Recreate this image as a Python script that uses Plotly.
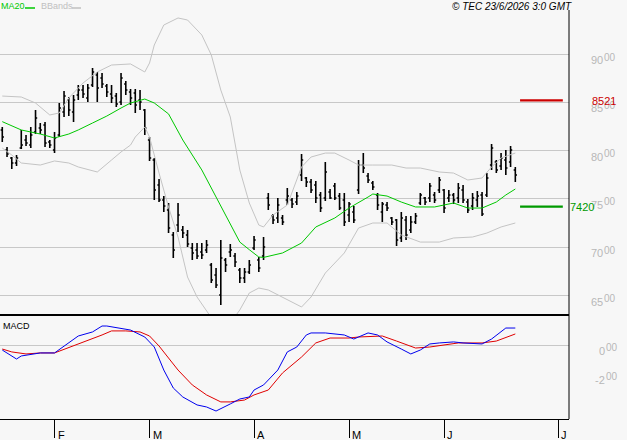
import plotly.graph_objects as go

# ---------------- data ----------------
open_ = [8214,8007,7924,7872,8027,8110,8058,8193,8234,8265,
         8089,8007,8162,8400,8524,8400,8576,8627,8545,8679,
         8783,8752,8669,8586,8565,8503,8690,8607,8596,8524,
         8421,8110,7903,7644,7489,7386,7127,7230,7179,7127,
         6992,6972,6951,6972,6816,6713,6506,6868,6951,6910,
         6764,6682,6744,6992,6868,6910,7510,7323,7303,7303,
         7489,7489,7468,7748,7717,7675,7644,7541,7510,7572,
         7634,7530,7489,7334,7365,7593,7851,7737,7665,7541,
         7365,7437,7303,7282,7096,7282,7179,7261,7458,7510,
         7510,7541,7593,7593,7510,7541,7510,7593,7468,7427,
         7489,7541,7541,7851,7882,7841,7903,7882,7800]
high = [8245,8038,7934,7955,8214,8162,8245,8421,8286,8296,
        8110,8193,8493,8617,8555,8576,8679,8679,8690,8855,
        8814,8803,8690,8679,8596,8803,8721,8638,8638,8627,
        8431,8141,7924,7706,7530,7458,7158,7458,7220,7179,
        7044,7044,7044,7075,6837,6785,7075,6889,7034,6941,
        6785,6785,6868,7116,6899,7106,7561,7344,7510,7334,
        7613,7510,7572,7965,7727,7706,7686,7572,7882,7603,
        7665,7561,7561,7468,7427,7903,7975,7768,7686,7561,
        7468,7468,7313,7292,7365,7323,7323,7355,7561,7520,
        7665,7572,7727,7603,7593,7561,7665,7644,7499,7561,
        7582,7572,7768,8069,7903,7975,8007,8048,7831]
low = [8089,7934,7810,7841,8017,8048,8027,8172,8172,8038,
       8027,7975,8141,8348,8358,8296,8524,8545,8503,8659,
       8503,8648,8555,8493,8452,8472,8576,8472,8390,8421,
       8162,7893,7489,7468,7365,7147,6889,7158,7096,7003,
       6868,6878,6878,6941,6630,6578,6402,6744,6899,6796,
       6630,6630,6723,6972,6744,6868,7386,7241,7251,7230,
       7437,7406,7437,7686,7624,7561,7458,7365,7479,7499,
       7489,7386,7220,7261,7251,7551,7768,7665,7593,7386,
       7261,7375,7230,7013,7054,7075,7147,7241,7437,7437,
       7468,7458,7561,7355,7468,7448,7458,7458,7355,7386,
       7417,7323,7520,7800,7768,7800,7748,7831,7675]
close = [8141,7965,7872,7924,8058,8079,8162,8338,8214,8079,
         8058,8131,8441,8565,8421,8524,8627,8586,8648,8814,
         8648,8690,8607,8545,8483,8752,8627,8545,8472,8503,
         8234,7924,7593,7489,7427,7199,6972,7334,7147,7034,
         6941,6910,6920,7023,6661,6609,6889,6816,6972,6847,
         6682,6744,6816,7075,6785,7003,7437,7282,7437,7261,
         7530,7448,7530,7903,7675,7593,7510,7406,7779,7510,
         7510,7406,7261,7448,7282,7851,7820,7696,7624,7437,
         7448,7406,7261,7075,7303,7127,7261,7323,7541,7468,
         7634,7489,7696,7406,7541,7489,7613,7489,7386,7510,
         7530,7344,7717,8027,7800,7924,7820,8007,7748]

ma20_x = [0,4,8,11,14,16,19,22,25,27,30,32,35,38,42,44,47,50,52,54,
          55,59,63,66,70,73,77,78,81,84,87,91,95,98,101,104,106,108]
ma20_y = [8300,8214,8172,8131,8172,8214,8286,8358,8441,8493,8534,8493,8380,8110,7800,7613,7334,7054,6975,6899,
          6895,6941,7044,7210,7303,7406,7520,7551,7530,7468,7417,7417,7458,7406,7406,7468,7541,7603]

bbu_x = [0,4,7,10,12,14,17,20,23,27,30,31,32,34,37,39,42,44,46,48,
         50,52,54,55,57,60,63,65,68,70,73,75,78,82,85,88,92,95,98,101,
         103,105,108]
bbu_y = [8565,8555,8493,8369,8390,8545,8700,8814,8886,8897,8814,8907,9093,9300,9373,9352,9197,8990,8627,8348,
         7800,7458,7230,7210,7334,7437,7831,7934,7975,7975,7903,7851,7851,7851,7820,7820,7779,7768,7696,7717,
         7831,7924,7975]

bbl_x = [0,2,4,8,11,14,16,20,23,25,27,28,30,31,33,35,37,39,41,43,
         45,47,50,52,54,56,59,63,65,68,72,75,78,81,84,88,92,95,99,102,
         105,108]
bbl_y = [8027,7955,7872,7851,7893,7872,7831,7779,7903,7986,8058,8141,8245,8141,7768,7417,7106,6692,6485,6351,
         6200,6150,6351,6527,6578,6558,6485,6382,6485,6733,6941,7199,7251,7251,7127,7054,7054,7096,7106,7147,
         7210,7251]

macd_x = [0,3,4,8,11,13,16,19,21,22,25,27,30,32,34,36,38,41,43,45,
          48,50,52,53,55,58,60,62,64,65,68,72,74,75,77,79,81,84,86,88,
          90,92,95,97,101,103,105,106,108]
macd_y = [-28,-90,-69,-48,-48,0,69,97,138,138,124,110,62,-7,-166,-290,-352,-407,-421,-449,
          -400,-366,-352,-304,-269,-166,-41,-7,76,90,90,76,48,62,90,76,28,-21,-55,-28,
          14,21,28,21,14,48,97,124,124]

sig_x = [0,2,5,8,11,15,18,21,23,26,29,31,33,37,40,43,46,48,51,53,
         56,59,63,66,69,73,75,78,80,83,87,90,93,96,101,104,108]
sig_y = [-21,-41,-55,-48,-48,0,41,76,104,104,97,69,0,-166,-269,-338,-386,-386,-373,-338,
         -304,-186,-76,21,55,55,62,69,69,34,-14,-7,7,21,21,34,83]

month_pos = [11, 31, 53, 73, 93, 117]
month_lbl = ["F", "M", "A", "M", "J", "J"]
price_ticks = [6500, 7000, 7500, 8000, 8500, 9000]
macd_ticks = [0, -200]
levels = [8521, 7420]
level_colors = ["#cc0000", "#009a00"]

# ---------------- figure ----------------
FONT = "Liberation Sans, Arial, sans-serif"
BG = "#f7f7f7"
GRID = "#c8c8c8"
LBL = "#b8b8b8"
n = len(close)
bars_x = list(range(n))
X_RANGE = [-0.48, 119.3]
P_RANGE = [6299, 9559]
M_RANGE = [-504, 207]
PLOT_H = 419
main_bottom = (PLOT_H - 315) / PLOT_H
macd_top = (PLOT_H - 316) / PLOT_H


def split_label(v):
    sign = "-" if v < 0 else ""
    a = abs(v)
    return f"{sign}{a // 100}", f"{a % 100:02d}"


fig = go.Figure()

fig.add_trace(go.Scatter(x=bbu_x, y=bbu_y, mode="lines", line=dict(color="#c4c4c4", width=1),
                         xaxis="x", yaxis="y", hoverinfo="skip"))
fig.add_trace(go.Scatter(x=bbl_x, y=bbl_y, mode="lines", line=dict(color="#c4c4c4", width=1),
                         xaxis="x", yaxis="y", hoverinfo="skip"))
fig.add_trace(go.Scatter(x=ma20_x, y=ma20_y, mode="lines", line=dict(color="#00c800", width=1),
                         xaxis="x", yaxis="y", hoverinfo="skip"))
fig.add_trace(go.Ohlc(x=bars_x, open=open_, high=high, low=low, close=close,
                      increasing=dict(line=dict(color="black", width=1.6)),
                      decreasing=dict(line=dict(color="black", width=1.6)),
                      tickwidth=0.35, xaxis="x", yaxis="y", hoverinfo="skip"))

# level lines to the right of the last bar
for lv, col in zip(levels, level_colors):
    fig.add_trace(go.Scatter(x=[n, n + 9], y=[lv, lv], mode="lines",
                             line=dict(color=col, width=2.2), xaxis="x", yaxis="y",
                             hoverinfo="skip"))

fig.add_trace(go.Scatter(x=sig_x, y=sig_y, mode="lines", line=dict(color="#e00000", width=1),
                         xaxis="x2", yaxis="y2", hoverinfo="skip"))
fig.add_trace(go.Scatter(x=macd_x, y=macd_y, mode="lines", line=dict(color="#0000ee", width=1),
                         xaxis="x2", yaxis="y2", hoverinfo="skip"))

ann = []


def axis_label(v, yref, main_right, dy):
    big, small = split_label(v)
    ann.append(dict(x=1, xref="paper", y=v, yref=yref, text=big, showarrow=False,
                    xanchor="right", yanchor="middle", xshift=main_right, yshift=dy,
                    font=dict(family=FONT, size=11, color=LBL)))
    ann.append(dict(x=1, xref="paper", y=v, yref=yref, text=small, showarrow=False,
                    xanchor="left", yanchor="middle", xshift=main_right - 3, yshift=dy + 3,
                    font=dict(family=FONT, size=10, color=LBL)))


for v in price_ticks:
    axis_label(v, "y", 36, -6)
for v in macd_ticks:
    axis_label(v, "y2", 38, -5)

ann.append(dict(x=1, xref="paper", y=levels[0], yref="y", text=str(levels[0]), showarrow=False,
                xanchor="right", yanchor="middle", xshift=49, yshift=-1,
                font=dict(family=FONT, size=11, color=level_colors[0])))
ann.append(dict(x=1, xref="paper", y=levels[1], yref="y", text=str(levels[1]), showarrow=False,
                xanchor="left", yanchor="middle", xshift=-1, yshift=0,
                font=dict(family=FONT, size=11, color=level_colors[1])))
for p, t in zip(month_pos, month_lbl):
    ann.append(dict(x=p, xref="x2", y=0, yref="paper", text=t, showarrow=False,
                    xanchor="left", yanchor="top", xshift=1, yshift=-8,
                    font=dict(family=FONT, size=11, color="black")))
# legend texts
ann.append(dict(x=0, xref="paper", y=1, yref="paper", text="MA20", showarrow=False,
                xanchor="left", yanchor="top", xshift=-1, yshift=1,
                font=dict(family=FONT, size=9, color="#00c800")))
ann.append(dict(x=0, xref="paper", y=1, yref="paper", text="BBands", showarrow=False,
                xanchor="left", yanchor="top", xshift=39, yshift=1,
                font=dict(family=FONT, size=9, color="#c0c0c0")))
ann.append(dict(x=1, xref="paper", y=1, yref="paper", text="<i>© TEC 23/6/2026 3:0 GMT</i>",
                showarrow=False, xanchor="right", yanchor="top", xshift=5, yshift=1,
                font=dict(family=FONT, size=10, color="black")))
ann.append(dict(x=0, xref="paper", y=macd_top, yref="paper", text="MACD", showarrow=False,
                xanchor="left", yanchor="top", xshift=1, yshift=-3,
                font=dict(family=FONT, size=9, color="black")))

shapes = [
    # separator between panels
    dict(type="line", xref="paper", yref="paper", x0=0, x1=1, y0=main_bottom, y1=main_bottom,
         line=dict(color="black", width=2)),
    # right axis line
    dict(type="line", xref="paper", yref="paper", x0=1, x1=1, y0=0, y1=(PLOT_H - 10) / PLOT_H,
         line=dict(color="black", width=1)),
    # legend swatches
    dict(type="line", xref="paper", yref="paper", x0=25 / 569, x1=35 / 569,
         y0=(PLOT_H - 8) / PLOT_H, y1=(PLOT_H - 8) / PLOT_H, line=dict(color="#00c800", width=1.5)),
    dict(type="line", xref="paper", yref="paper", x0=72 / 569, x1=81 / 569,
         y0=(PLOT_H - 8) / PLOT_H, y1=(PLOT_H - 8) / PLOT_H, line=dict(color="#c0c0c0", width=1.5)),
]

fig.update_layout(
    width=627, height=440,
    margin=dict(l=0, r=58, t=0, b=21, pad=0),
    paper_bgcolor=BG, plot_bgcolor=BG,
    showlegend=False,
    annotations=ann,
    shapes=shapes,
    xaxis=dict(domain=[0, 1], range=X_RANGE, anchor="y", showgrid=False, zeroline=False,
               showticklabels=False, ticks="", showline=False, rangeslider=dict(visible=False),
               fixedrange=True),
    xaxis2=dict(domain=[0, 1], range=X_RANGE, anchor="y2", matches="x", showgrid=False,
                zeroline=False, showticklabels=False, ticks="outside", tickvals=month_pos,
                ticklen=18, tickwidth=1, tickcolor="black", showline=True, linecolor="black",
                linewidth=1),
    yaxis=dict(domain=[main_bottom, 1], range=P_RANGE, side="right", tickvals=price_ticks,
               showticklabels=False, showgrid=True, gridcolor=GRID, gridwidth=1, zeroline=False,
               showline=False, ticks=""),
    yaxis2=dict(domain=[0, macd_top], range=M_RANGE, side="right", tickvals=[0],
                showticklabels=False, showgrid=True, gridcolor=GRID, gridwidth=1, zeroline=False,
                showline=False, ticks=""),
)

fig.write_html("out.html")
